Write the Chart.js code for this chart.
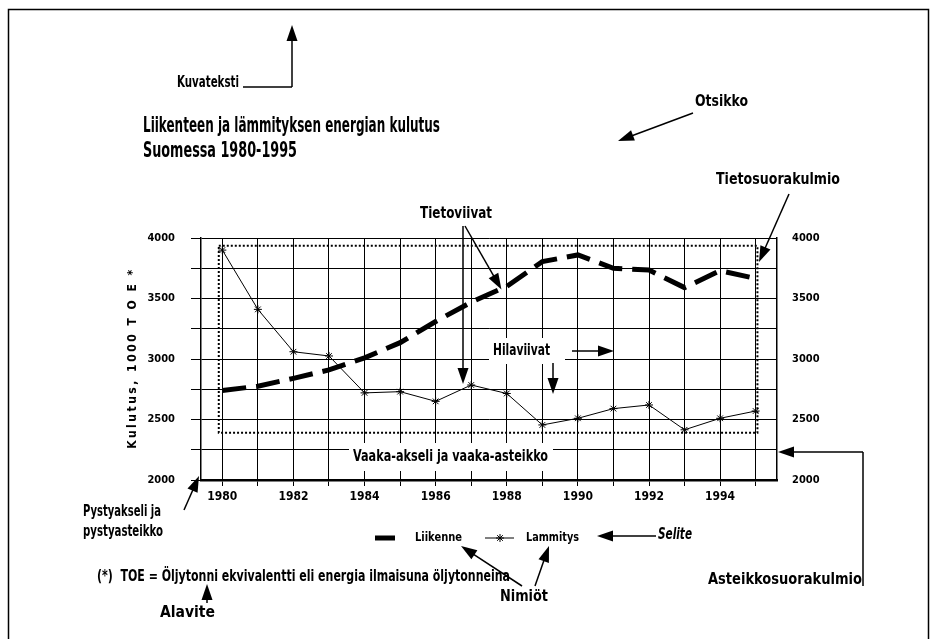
<!DOCTYPE html>
<html>
<head>
<meta charset="utf-8">
<script src="https://cdn.jsdelivr.net/npm/chart.js@4.4.0/dist/chart.umd.min.js"></script>
<style>
html, body { margin: 0; padding: 0; background: #fff; }
</style>
</head>
<body>
<canvas id="myChart" width="933" height="639"></canvas>
<script>
var years = [1980, 1981, 1982, 1983, 1984, 1985, 1986, 1987, 1988, 1989, 1990, 1991, 1992, 1993, 1994, 1995];
var liikenne = [2740, 2775, 2840, 2910, 3010, 3135, 3310, 3470, 3600, 3805, 3860, 3750, 3735, 3590, 3730, 3665];
var lammitys = [3900, 3410, 3060, 3025, 2720, 2730, 2650, 2785, 2715, 2455, 2510, 2590, 2620, 2415, 2510, 2570];
var yLabels = [2000, 2500, 3000, 3500, 4000];
var xLabels = [1980, 1982, 1984, 1986, 1988, 1990, 1992, 1994];

var FONT = '"Liberation Sans Narrow", "DejaVu Sans Condensed", Roboto, sans-serif';

function pts(vals) {
    var out = [];
    for (var i = 0; i < years.length; i++) out.push({x: years[i], y: vals[i]});
    return out;
}

// text squeezed/stretched to the width it has in the picture
function txt(ctx, s, x, y, size, weight, w, style) {
    ctx.save();
    ctx.font = (style || '') + ' ' + weight + ' ' + size + 'px ' + FONT;
    ctx.fillStyle = '#000';
    ctx.textBaseline = 'middle';
    ctx.textAlign = 'left';
    var m = ctx.measureText(s).width;
    ctx.translate(x, y);
    if (w) ctx.scale(w / m, 1);
    ctx.fillText(s, 0, 0);
    ctx.restore();
}

function arrow(ctx, x1, y1, x2, y2) {
    var a = Math.atan2(y2 - y1, x2 - x1);
    var len = 16, hw = 5.5;
    ctx.save();
    ctx.strokeStyle = '#000';
    ctx.fillStyle = '#000';
    ctx.lineWidth = 1.5;
    ctx.beginPath();
    ctx.moveTo(x1, y1);
    ctx.lineTo(x2 - Math.cos(a) * len * 0.8, y2 - Math.sin(a) * len * 0.8);
    ctx.stroke();
    ctx.beginPath();
    ctx.moveTo(x2, y2);
    ctx.lineTo(x2 - Math.cos(a) * len - Math.sin(a) * hw, y2 - Math.sin(a) * len + Math.cos(a) * hw);
    ctx.lineTo(x2 - Math.cos(a) * len + Math.sin(a) * hw, y2 - Math.sin(a) * len - Math.cos(a) * hw);
    ctx.closePath();
    ctx.fill();
    ctx.restore();
}

function line(ctx, x1, y1, x2, y2, w) {
    ctx.save();
    ctx.strokeStyle = '#000';
    ctx.lineWidth = w || 1.5;
    ctx.beginPath();
    ctx.moveTo(x1, y1);
    ctx.lineTo(x2, y2);
    ctx.stroke();
    ctx.restore();
}

function whiteBox(ctx, x, y, w, h) {
    ctx.save();
    ctx.fillStyle = '#fff';
    ctx.fillRect(x, y, w, h);
    ctx.restore();
}

var annotations = {
    id: 'annotations',
    beforeDatasetsDraw: function(chart) {
        var ctx = chart.ctx;
        var xs = chart.scales.x, ys = chart.scales.y;
        // Tietosuorakulmio (dotted)
        var l = xs.getPixelForValue(1979.9), r = xs.getPixelForValue(1995.05);
        var t = ys.getPixelForValue(3935), b = ys.getPixelForValue(2390);
        ctx.save();
        ctx.strokeStyle = '#000';
        ctx.lineWidth = 2;
        ctx.setLineDash([2, 2]);
        ctx.strokeRect(l, t, r - l, b - t);
        ctx.restore();
        // labels sitting on the grid
        whiteBox(ctx, 349, 443, 204, 28);
        txt(ctx, 'Vaaka-akseli ja vaaka-asteikko', 353, 457, 15, 'bold', 195);
        whiteBox(ctx, 489, 338, 76, 26);
        txt(ctx, 'Hilaviivat', 493, 351, 15, 'bold', 57);
    },
    afterDraw: function(chart) {
        var ctx = chart.ctx;
        var xs = chart.scales.x, ys = chart.scales.y;

        // outer frame
        ctx.save();
        ctx.strokeStyle = '#000';
        ctx.lineWidth = 1.5;
        ctx.strokeRect(8.5, 9.5, 920, 640);
        ctx.restore();

        txt(ctx, 'Kuvateksti', 177, 83, 15, 'bold', 62);
        line(ctx, 243, 87, 292, 87);
        arrow(ctx, 292, 87, 292, 25);

        txt(ctx, 'Liikenteen ja lämmityksen energian kulutus', 143, 127, 21, 'bold', 297);
        txt(ctx, 'Suomessa 1980-1995', 143, 152, 21, 'bold', 154);

        txt(ctx, 'Otsikko', 695, 102, 15, 'bold', 53);
        arrow(ctx, 693, 113, 618, 141);

        txt(ctx, 'Tietosuorakulmio', 716, 180, 15, 'bold', 124);
        arrow(ctx, 789, 194, 759, 262);

        txt(ctx, 'Tietoviivat', 420, 214, 15, 'bold', 72);
        arrow(ctx, 463, 226, 463, ys.getPixelForValue(lammitys[7]) - 1);
        arrow(ctx, 465, 226, xs.getPixelForValue(1987.85), ys.getPixelForValue(liikenne[8]) + 3);

        arrow(ctx, 572, 351, 614, 351);
        arrow(ctx, 553, 363, 553, 394);

        line(ctx, 863, 586, 863, 452);
        arrow(ctx, 863, 452, 778, 452);
        txt(ctx, 'Asteikkosuorakulmio', 708, 580, 16, 'bold', 154);

        txt(ctx, 'Pystyakseli ja', 83, 512, 16, 'bold', 78);
        txt(ctx, 'pystyasteikko', 83, 532, 16, 'bold', 80);
        arrow(ctx, 184, 510, 199, 476);

        // y-axis title
        ctx.save();
        ctx.translate(133, 358);
        ctx.rotate(-Math.PI / 2);
        ctx.font = 'bold 12px ' + FONT;
        ctx.letterSpacing = '2.5px';
        ctx.fillStyle = '#000';
        ctx.textAlign = 'center';
        ctx.textBaseline = 'middle';
        ctx.fillText('Kulutus, 1000 T O E *', 0, 0);
        ctx.restore();

        // legend
        line(ctx, 375, 538, 395, 538, 5);
        txt(ctx, 'Liikenne', 415, 538, 13, 'bold', 47);
        line(ctx, 485, 538, 514, 538, 1);
        ctx.save();
        ctx.strokeStyle = '#000';
        Chart.helpers.drawPoint(ctx, {pointStyle: 'star', radius: 4, rotation: 0, borderWidth: 1}, 500, 538);
        ctx.restore();
        txt(ctx, 'Lammitys', 526, 538, 13, 'bold', 53);

        txt(ctx, 'Selite', 658, 535, 15, 'bold', 34, 'italic');
        arrow(ctx, 656, 536, 597, 536);

        txt(ctx, '(*)  TOE = Öljytonni ekvivalentti eli energia ilmaisuna öljytonneina', 97, 577, 15, 'bold', 413);

        txt(ctx, 'Nimiöt', 500, 597, 16, 'bold', 48);
        arrow(ctx, 522, 586, 461, 546);
        arrow(ctx, 535, 586, 549, 546);

        txt(ctx, 'Alavite', 160, 613, 16, 'bold', 55);
        arrow(ctx, 207, 603, 207, 584);
    }
};

var ctx = document.getElementById('myChart');
var myChart = new Chart(ctx, {
    type: 'line',
    data: {
        datasets: [{
            label: 'Liikenne',
            data: pts(liikenne),
            borderColor: '#000',
            borderWidth: 5,
            borderDash: [24, 10],
            pointRadius: 0,
            tension: 0,
            yAxisID: 'y'
        }, {
            label: 'Lammitys',
            data: pts(lammitys),
            borderColor: '#000',
            borderWidth: 1,
            pointStyle: 'star',
            pointRadius: 4,
            pointBorderWidth: 1,
            pointBorderColor: '#000',
            tension: 0,
            yAxisID: 'y'
        }]
    },
    options: {
        responsive: false,
        animation: false,
        devicePixelRatio: 1,
        layout: { padding: { top: 238, left: 0, right: 0, bottom: 0 } },
        plugins: { legend: { display: false }, tooltip: { enabled: false } },
        scales: {
            x: {
                type: 'linear',
                min: 1979.4,
                max: 1995.6,
                afterFit: function(s) { s.height = 159; },
                ticks: {
                    stepSize: 1,
                    includeBounds: false,
                    autoSkip: false,
                    maxRotation: 0,
                    padding: 4,
                    color: '#000',
                    font: { family: FONT, size: 12, weight: 'bold' },
                    callback: function(v) { return xLabels.indexOf(v) >= 0 ? String(v) : ''; }
                },
                grid: { color: '#000', lineWidth: 1, tickLength: 6 },
                border: { color: '#000', width: 2.5 }
            },
            y: {
                position: 'left',
                min: 2000,
                max: 4000,
                afterFit: function(s) { s.width = 201; },
                ticks: {
                    stepSize: 250,
                    padding: 16,
                    color: '#000',
                    font: { family: FONT, size: 11, weight: 'bold' },
                    callback: function(v) { return yLabels.indexOf(v) >= 0 ? String(v) : ''; }
                },
                grid: { color: '#000', lineWidth: 1, tickLength: 10 },
                border: { color: '#000', width: 1.5 }
            },
            y2: {
                position: 'right',
                min: 2000,
                max: 4000,
                afterFit: function(s) { s.width = 156; },
                ticks: {
                    stepSize: 250,
                    padding: 15,
                    color: '#000',
                    font: { family: FONT, size: 11, weight: 'bold' },
                    callback: function(v) { return yLabels.indexOf(v) >= 0 ? String(v) : ''; }
                },
                grid: { display: false, drawTicks: false },
                border: { display: true, color: '#000', width: 1.5 }
            }
        }
    },
    plugins: [annotations]
});
</script>
</body>
</html>
